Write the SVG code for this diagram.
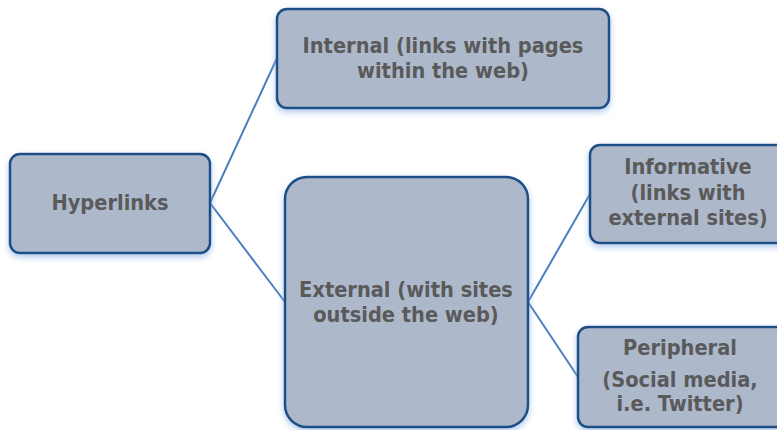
<svg xmlns="http://www.w3.org/2000/svg" width="777" height="430" viewBox="0 0 777 430">
  <defs>
    <filter id="glow" x="-10%" y="-10%" width="120%" height="130%">
      <feGaussianBlur in="SourceAlpha" stdDeviation="3"/>
      <feOffset dx="0" dy="3" result="b"/>
      <feFlood flood-color="#8fb0e6" flood-opacity="0.7"/>
      <feComposite in2="b" operator="in"/>
      <feMerge><feMergeNode/><feMergeNode in="SourceGraphic"/></feMerge>
    </filter>
  </defs>
  <style>
    .box { fill: #adb8cb; stroke: #1d4f86; stroke-width: 2.5; filter: url(#glow); }
    .lbl { font-family: "DejaVu Sans Condensed", "DejaVu Sans", Verdana, sans-serif; font-stretch: condensed; font-weight: bold; font-size: 21.6px; fill: #5a5a5a; text-anchor: middle; }
    .link { stroke: #4c7fbd; stroke-width: 2; fill: none; }
  </style>
  <rect width="777" height="430" fill="#ffffff"/>

  <g id="connectors">
    <line class="link" x1="210" y1="203" x2="277" y2="58"/>
    <line class="link" x1="210" y1="203" x2="285" y2="302"/>
    <line class="link" x1="528" y1="302" x2="590" y2="194"/>
    <line class="link" x1="528" y1="302" x2="578" y2="377"/>
  </g>

  <g id="hyperlinks">
    <rect class="box" x="10" y="154" width="200" height="99" rx="10"/>
    <text class="lbl" x="110" y="210">Hyperlinks</text>
  </g>

  <g id="internal">
    <rect class="box" x="277" y="9" width="332" height="99" rx="10"/>
    <text class="lbl" x="443" y="53">Internal (links with pages</text>
    <text class="lbl" x="443" y="78">within the web)</text>
  </g>

  <g id="external">
    <rect class="box" x="285" y="177" width="243" height="250" rx="22"/>
    <text class="lbl" x="406" y="297">External (with sites</text>
    <text class="lbl" x="406" y="322">outside the web)</text>
  </g>

  <g id="informative">
    <rect class="box" x="590" y="145" width="200" height="98" rx="10"/>
    <text class="lbl" x="688" y="174">Informative</text>
    <text class="lbl" x="688" y="200">(links with</text>
    <text class="lbl" x="688" y="225">external sites)</text>
  </g>

  <g id="peripheral">
    <rect class="box" x="578" y="327" width="212" height="100" rx="10"/>
    <text class="lbl" x="680" y="355">Peripheral</text>
    <text class="lbl" x="680" y="387">(Social media,</text>
    <text class="lbl" x="680" y="411">i.e. Twitter)</text>
  </g>
</svg>
